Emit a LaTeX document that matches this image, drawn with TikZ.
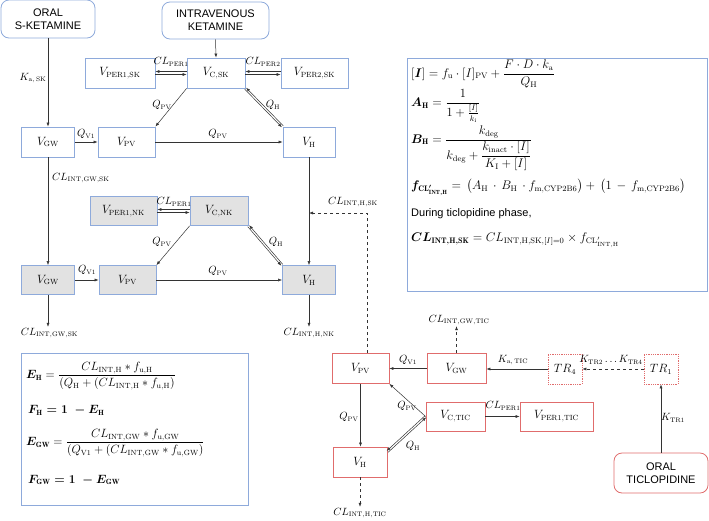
\documentclass[tikz,border=0pt]{standalone}
\usepackage{fix-cm}
\usepackage{amsmath}
\usepackage{bm}
\usepackage{fontspec}
\setsansfont{Liberation Sans}
\usetikzlibrary{arrows.meta}

\DeclareMathSizes{10.5}{10.5}{6.5}{5}
\DeclareMathSizes{12}{12}{7.5}{5.5}
\DeclareMathSizes{12.5}{12.5}{8}{6}

\definecolor{boxblue}{HTML}{8EAADB}
\definecolor{boxred}{HTML}{E06C6C}
\definecolor{boxgrey}{HTML}{E2E2E2}
\definecolor{linegrey}{HTML}{333333}

\newcommand{\bmx}[1]{\mbox{\boldmath$#1$}}

\tikzset{
  comp/.style={draw=boxblue, line width=0.8pt, minimum height=30pt, inner sep=0pt,
    font=\fontsize{12}{14}\selectfont},
  compnk/.style={comp, fill=boxgrey, minimum height=29pt},
  comptic/.style={comp, draw=boxred},
  transit/.style={comptic, densely dotted},
  dose/.style={draw=boxblue, line width=0.8pt, rounded corners=8pt, align=center,
    inner sep=0pt, font=\sffamily\fontsize{11}{13}\selectfont},
  flow/.style={draw=linegrey, line width=0.5pt, -{Latex[length=4pt,width=3pt]}},
  lbl/.style={inner sep=1pt, font=\fontsize{10.5}{12}\selectfont},
  eqbox/.style={draw=boxblue, line width=0.8pt, inner sep=0pt},
  eq/.style={anchor=west, inner sep=0pt, font=\fontsize{12.5}{15}\selectfont},
  eql/.style={eq, font=\fontsize{12}{14}\selectfont},
}

\begin{document}
\begin{tikzpicture}[x=1pt,y=-1pt]
\useasboundingbox (0,0) rectangle (709,520);

% doses
\node[dose, minimum width=94pt, minimum height=38pt] (oralsk) at (48,19) {ORAL\\S-KETAMINE};
\node[dose, minimum width=107pt, minimum height=37pt] (iv) at (215.5,20.5) {INTRAVENOUS\\KETAMINE};
\node[dose, draw=boxred, minimum width=94pt, minimum height=40pt] (oraltic) at (661,473) {ORAL\\TICLOPIDINE};

% S-ketamine
\node[comp, minimum width=70pt] (per1sk) at (120,73) {$V_{\mathrm{PER1,SK}}$};
\node[comp, minimum width=58pt] (csk) at (216,73) {$V_{\mathrm{C,SK}}$};
\node[comp, minimum width=67pt] (per2sk) at (314.5,73) {$V_{\mathrm{PER2,SK}}$};
\node[comp, minimum width=53pt] (gwsk) at (48,142) {$V_{\mathrm{GW}}$};
\node[comp, minimum width=57pt] (pvsk) at (126.5,142) {$V_{\mathrm{PV}}$};
\node[comp, minimum width=52pt] (hsk) at (309,142) {$V_{\mathrm{H}}$};

% norketamine
\node[compnk, minimum width=67pt] (per1nk) at (123.5,211) {$V_{\mathrm{PER1,NK}}$};
\node[compnk, minimum width=58pt] (cnk) at (219,211) {$V_{\mathrm{C,NK}}$};
\node[compnk, minimum width=53pt] (gwnk) at (48,280) {$V_{\mathrm{GW}}$};
\node[compnk, minimum width=57pt] (pvnk) at (127.5,280) {$V_{\mathrm{PV}}$};
\node[compnk, minimum width=53pt] (hnk) at (309,280) {$V_{\mathrm{H}}$};

% ticlopidine
\node[comptic, minimum width=57pt] (pvtic) at (360.5,368.5) {$V_{\mathrm{PV}}$};
\node[comptic, minimum width=59pt] (gwtic) at (456.5,368.5) {$V_{\mathrm{GW}}$};
\node[transit, minimum width=34pt] (tr4) at (565,369) {$TR_4$};
\node[transit, minimum width=34pt] (tr1) at (661,369) {$TR_1$};
\node[comptic, minimum width=59pt, minimum height=29pt] (ctic) at (455.5,416.5) {$V_{\mathrm{C,TIC}}$};
\node[comptic, minimum width=73pt, minimum height=29pt] (per1tic) at (556.5,416.5) {$V_{\mathrm{PER1,TIC}}$};
\node[comptic, minimum width=54pt] (htic) at (360,462) {$V_{\mathrm{H}}$};

% outflow labels
\node[lbl] (clgwsk) at (49.5,333) {$CL_{\mathrm{INT,GW,SK}}$};
\node[lbl] (clhnk) at (309,333) {$CL_{\mathrm{INT,H,NK}}$};
\node[lbl] (clgwtic) at (459,320) {$CL_{\mathrm{INT,GW,TIC}}$};
\node[lbl] (clhtic) at (360,513) {$CL_{\mathrm{INT,H,TIC}}$};
\coordinate (jn) at (309,213);

% S-ketamine connectors
\draw[flow] (oralsk.south) -- (gwsk.north);
\node[lbl] at (33,78) {$K_{\mathrm{a,\,SK}}$};
\draw[flow] (iv.south) -- (csk.north);
\draw[flow] ([yshift=1.5pt]csk.west) -- ([yshift=1.5pt]per1sk.east);
\draw[flow] ([yshift=-1.5pt]per1sk.east) -- ([yshift=-1.5pt]csk.west);
\node[lbl] at (171,62) {$CL_{\mathrm{PER1}}$};
\draw[flow] ([yshift=1.5pt]per2sk.west) -- ([yshift=1.5pt]csk.east);
\draw[flow] ([yshift=-1.5pt]csk.east) -- ([yshift=-1.5pt]per2sk.west);
\node[lbl] at (263,62) {$CL_{\mathrm{PER2}}$};
\draw[flow] (csk.south west) -- (pvsk.north east);
\node[lbl] at (162,105) {$Q_{\mathrm{PV}}$};
\draw[flow, transform canvas={shift={(0.7pt,0.7pt)}}] (hsk.north west) -- (csk.south east);
\draw[flow, transform canvas={shift={(-0.7pt,-0.7pt)}}] (csk.south east) -- (hsk.north west);
\node[lbl] at (273,105) {$Q_{\mathrm{H}}$};
\draw[flow] (gwsk.east) -- (pvsk.west);
\node[lbl] at (86,134) {$Q_{\mathrm{V1}}$};
\draw[flow] (pvsk.east) -- (hsk.west);
\node[lbl] at (218,134) {$Q_{\mathrm{PV}}$};
\draw[flow] (gwsk.south) -- (gwnk.north);
\node[lbl, anchor=west] at (51,178) {$CL_{\mathrm{INT,GW,SK}}$};
\draw[flow] (hsk.south) -- (hnk.north);

% norketamine connectors
\draw[flow] ([yshift=1.5pt]cnk.west) -- ([yshift=1.5pt]per1nk.east);
\draw[flow] ([yshift=-1.5pt]per1nk.east) -- ([yshift=-1.5pt]cnk.west);
\node[lbl] at (174,202) {$CL_{\mathrm{PER1}}$};
\draw[flow] (cnk.south west) -- (pvnk.north east);
\node[lbl] at (162,242) {$Q_{\mathrm{PV}}$};
\draw[flow, transform canvas={shift={(0.7pt,0.7pt)}}] (hnk.north west) -- (cnk.south east);
\draw[flow, transform canvas={shift={(-0.7pt,-0.7pt)}}] (cnk.south east) -- (hnk.north west);
\node[lbl] at (276,242) {$Q_{\mathrm{H}}$};
\draw[flow] (gwnk.east) -- (pvnk.west);
\node[lbl] at (87,270) {$Q_{\mathrm{V1}}$};
\draw[flow] (pvnk.east) -- (hnk.west);
\node[lbl] at (218,271) {$Q_{\mathrm{PV}}$};
\draw[flow] (gwnk.south) -- (gwnk.south |- clgwsk.north);
\draw[flow] (hnk.south) -- (hnk.south |- clhnk.north);

% ticlopidine connectors
\draw[flow, dashed] ([xshift=6.5pt]pvtic.north) |- (jn);
\node[lbl] at (353,202) {$CL_{\mathrm{INT,H,SK}}$};
\draw[flow] (oraltic.north) -- (tr1.south);
\node[lbl] at (673,418) {$K_{\mathrm{TR1}}$};
\draw[flow, dashed] (tr1.west) -- (tr4.east);
\node[lbl] at (611,360) {$K_{\mathrm{TR2}}\ldots K_{\mathrm{TR4}}$};
\draw[flow] (tr4.west) -- (tr4.west -| gwtic.east);
\node[lbl] at (513,360) {$K_{\mathrm{a,\,TIC}}$};
\draw[flow] (gwtic.west) -- (gwtic.west -| pvtic.east);
\node[lbl] at (408,360) {$Q_{\mathrm{V1}}$};
\draw[flow, dashed] (gwtic.north) -- (gwtic.north |- clgwtic.south);
\draw[flow] (pvtic.south) -- (pvtic.south |- htic.north);
\node[lbl] at (349,417) {$Q_{\mathrm{PV}}$};
\draw[flow] (ctic.west) -- (pvtic.south east);
\node[lbl] at (407,406) {$Q_{\mathrm{PV}}$};
\draw[flow, transform canvas={shift={(0.7pt,-0.7pt)}}] ([yshift=-5pt]htic.north east) -- (ctic.west);
\draw[flow, transform canvas={shift={(-0.7pt,0.7pt)}}] (ctic.west) -- ([yshift=-5pt]htic.north east);
\node[lbl] at (413,446) {$Q_{\mathrm{H}}$};
\draw[flow] (ctic.east) -- (per1tic.west);
\node[lbl] at (503,406) {$CL_{\mathrm{PER1}}$};
\draw[flow, dashed] (htic.south) -- (htic.south |- clhtic.north);

% equation boxes
\node[eqbox, minimum width=300pt, minimum height=233pt] (inhib) at (557,174.5) {};
\node[eq] (eqi) at (411,74) {$[\bmx{I}] = f_{\mathrm{u}}\cdot[I]_{\mathrm{PV}} + \dfrac{F\cdot D\cdot k_{\mathrm{a}}}{Q_{\mathrm{H}}}$};
\node[eq] (eqa) at (411,106) {$\bmx{A_{\mathrm{H}}} = \dfrac{1}{1+\frac{[I]}{k_{\mathrm{i}}}}$};
\node[eq] (eqb) at (411,148.5) {$\bmx{B_{\mathrm{H}}} = \dfrac{k_{\mathrm{deg}}}{k_{\mathrm{deg}}+\dfrac{k_{\mathrm{inact}}\cdot[I]}{K_{\mathrm{I}}+[I]}}$};
\node[eq] (eqf) at (411,187) {$\bmx{f_{\mathrm{CL'_{INT,H}}}} = \,\bigl(A_{\mathrm{H}}\,\cdot\,B_{\mathrm{H}}\,\cdot f_{\mathrm{m,CYP2B6}}\bigr) + \,\bigl(1\,-\,f_{\mathrm{m,CYP2B6}}\bigr)$};
\node[eq, font=\sffamily\fontsize{11}{13}\selectfont] (eqd) at (411,214) {During ticlopidine phase,};
\node[eq] (eqc) at (411,240) {$\bmx{CL_{\mathrm{INT,H,SK}}} = CL_{\mathrm{INT,H,SK},[I]=0}\times f_{\mathrm{CL'_{INT,H}}}$};

\node[eqbox, minimum width=227pt, minimum height=152pt] (extract) at (134.5,429) {};
\node[eql] (eqeh) at (26,376) {$\bmx{E_{\mathrm{H}}} = \dfrac{CL_{\mathrm{INT,H}} * f_{\mathrm{u,H}}}{(Q_{\mathrm{H}}+(CL_{\mathrm{INT,H}} * f_{\mathrm{u,H}})}$};
\node[eql] (eqfh) at (28,410) {$\bmx{F_{\mathrm{H}} = 1\;-E_{\mathrm{H}}}$};
\node[eql] (eqegw) at (26,443) {$\bmx{E_{\mathrm{GW}}} = \dfrac{CL_{\mathrm{INT,GW}} * f_{\mathrm{u,GW}}}{(Q_{\mathrm{V1}}+(CL_{\mathrm{INT,GW}} * f_{\mathrm{u,GW}})}$};
\node[eql] (eqfgw) at (28,480) {$\bmx{F_{\mathrm{GW}} = 1\;-E_{\mathrm{GW}}}$};
\end{tikzpicture}
\end{document}
